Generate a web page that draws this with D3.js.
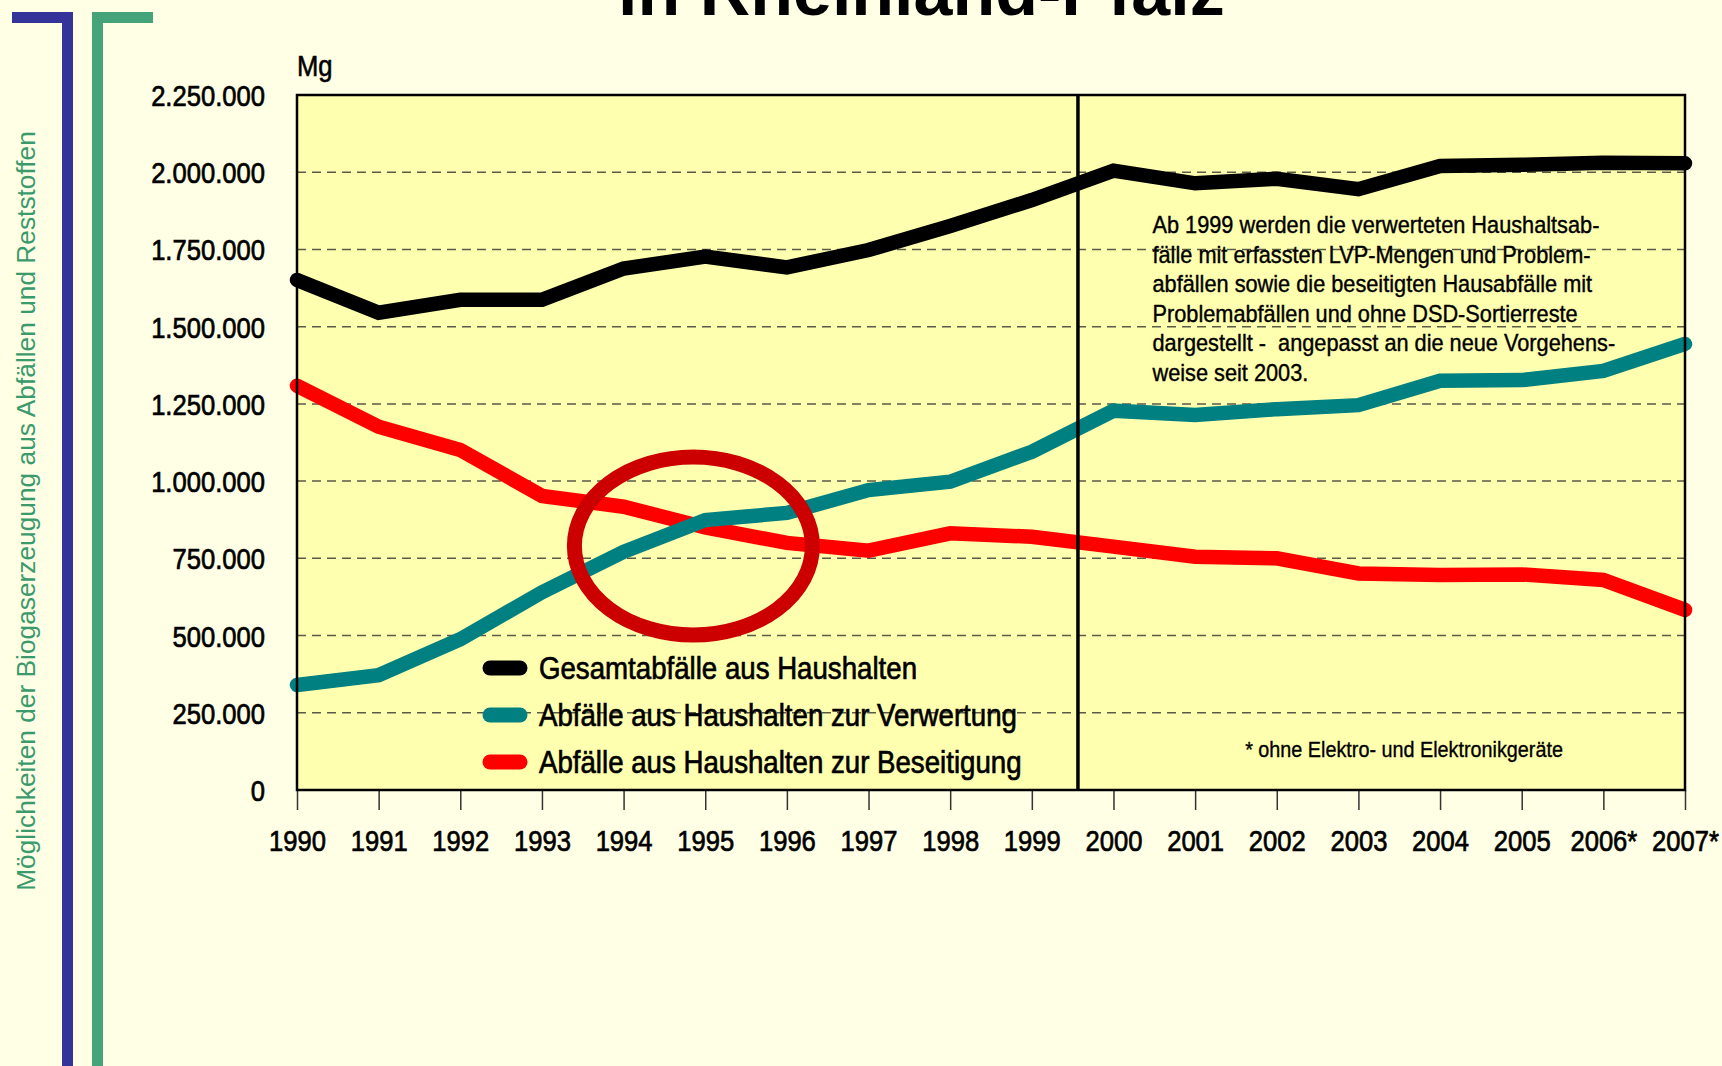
<!DOCTYPE html>
<html>
<head>
<meta charset="utf-8">
<script src="https://cdn.jsdelivr.net/npm/d3@7"></script>
<style>
  html, body { margin: 0; padding: 0; background: #ffffe6; }
  svg { display: block; }
  text { font-family: "Liberation Sans", Arial, sans-serif; white-space: pre; }
</style>
</head>
<body>
<svg id="chart" width="1722" height="1066"></svg>
<script>
// ---------- DATA ----------
const years = [1990,1991,1992,1993,1994,1995,1996,1997,1998,1999,2000,2001,2002,2003,2004,2005,2006,2007];
const yearLabels = ["1990","1991","1992","1993","1994","1995","1996","1997","1998","1999","2000","2001","2002","2003","2004","2005","2006*","2007*"];
const gesamt      = [1651000,1545000,1587000,1587000,1688000,1727000,1692000,1748000,1826000,1910000,2005000,1964000,1979000,1945000,2020000,2024000,2031000,2029000];
const verwertung  = [ 340000, 372000, 488000, 640000, 771000, 874000, 897000, 971000, 998000,1095000,1228000,1214000,1233000,1246000,1325000,1327000,1357000,1444000];
const beseitigung = [1309000,1176000,1101000, 952000, 917000, 850000, 800000, 775000, 831000, 820000, 788000, 755000, 750000, 701000, 696000, 698000, 680000, 583000];
const yTicks = [0,250000,500000,750000,1000000,1250000,1500000,1750000,2000000,2250000];
const seriesNames = ["Gesamtabfälle aus Haushalten","Abfälle aus Haushalten zur Verwertung","Abfälle aus Haushalten zur Beseitigung"];
const titleText = "in Rheinland-Pfalz";
const sideText = "Möglichkeiten der Biogaserzeugung aus Abfällen und Reststoffen";
const unitText = "Mg";
const noteLines = [
  "Ab 1999 werden die verwerteten Haushaltsab-",
  "fälle mit erfassten LVP-Mengen und Problem-",
  "abfällen sowie die beseitigten Hausabfälle mit",
  "Problemabfällen und ohne DSD-Sortierreste",
  "dargestellt -  angepasst an die neue Vorgehens-",
  "weise seit 2003."
];
const footText = "* ohne Elektro- und Elektronikgeräte";

// ---------- LAYOUT ----------
const W = 1722, H = 1066;
const plot = {left: 297, right: 1685, top: 95, bottom: 790};
const colors = ["#000000", "#008080", "#ff0000"];
const cond = 0.868;               // horizontal condense factor

const svg = d3.select("#chart");
svg.append("rect").attr("width", W).attr("height", H).attr("fill", "#ffffe6");

const x = d3.scaleLinear().domain([1990, 2007]).range([plot.left, plot.right]);
const y = d3.scaleLinear().domain([0, 2250000]).range([plot.bottom, plot.top]);

const de = d3.formatLocale({decimal: ",", thousands: ".", grouping: [3], currency: ["", " €"]});
const fmt = de.format(",d");

function addText(parent, px, py, str, size, sx, anchor, sw) {
  return parent.append("text")
    .attr("transform", `translate(${px},${py}) scale(${sx},1)`)
    .attr("text-anchor", anchor || "start")
    .style("font-size", size + "px")
    .attr("fill", "#000")
    .attr("stroke", "#000").attr("stroke-width", sw || 0)
    .text(str);
}

// ---------- left decoration ----------
svg.append("rect").attr("x", 12).attr("y", 12).attr("width", 61).attr("height", 11).attr("fill", "#333399");
svg.append("rect").attr("x", 62).attr("y", 12).attr("width", 11).attr("height", H - 12).attr("fill", "#333399");
svg.append("rect").attr("x", 92).attr("y", 12).attr("width", 61).attr("height", 11).attr("fill", "#45a37a");
svg.append("rect").attr("x", 92).attr("y", 12).attr("width", 11).attr("height", H - 12).attr("fill", "#45a37a");
svg.append("text")
  .attr("transform", "translate(35,511) rotate(-90)")
  .attr("text-anchor", "middle")
  .style("font-size", "26.3px")
  .attr("fill", "#3b9a6c")
  .text(sideText);

// ---------- title ----------
svg.append("text").attr("x", 618).attr("y", 15)
  .style("font-size", "70px").style("font-weight", "bold").attr("fill", "#000")
  .text(titleText);

// ---------- plot background ----------
svg.append("rect").attr("x", plot.left).attr("y", plot.top)
  .attr("width", plot.right - plot.left).attr("height", plot.bottom - plot.top)
  .attr("fill", "#ffffb0");

// gridlines
svg.append("g").selectAll("line")
  .data(yTicks.filter(v => v > 0 && v < 2250000))
  .join("line")
  .attr("x1", plot.left).attr("x2", plot.right)
  .attr("y1", d => y(d)).attr("y2", d => y(d))
  .attr("stroke", "#5a5a48").attr("stroke-width", 1.5).attr("stroke-dasharray", "9,6");

// ---------- axes ----------
const yAxis = svg.append("g").attr("transform", `translate(${plot.left},0)`)
  .call(d3.axisLeft(y).tickValues(yTicks).tickFormat(fmt).tickSize(0).tickPadding(0));
yAxis.select(".domain").remove();
yAxis.selectAll(".tick text")
  .attr("x", null).attr("dy", null)
  .attr("transform", `translate(-32,10.5) scale(${cond},1)`)
  .attr("text-anchor", "end")
  .style("font-size", "29.5px").style("font-family", "'Liberation Sans', Arial, sans-serif")
  .attr("fill", "#000").attr("stroke", "#000").attr("stroke-width", 0.7);

const xAxis = svg.append("g").attr("transform", `translate(0,${plot.bottom})`)
  .call(d3.axisBottom(x).tickValues(years).tickFormat((d, i) => yearLabels[i]).tickSize(20).tickPadding(0));
xAxis.select(".domain").remove();
xAxis.selectAll(".tick line").attr("stroke", "#333").attr("stroke-width", 1.5);
xAxis.selectAll(".tick text")
  .attr("y", null).attr("dy", null)
  .attr("transform", `translate(0,60.5) scale(${cond},1)`)
  .attr("text-anchor", "middle")
  .style("font-size", "29.5px").style("font-family", "'Liberation Sans', Arial, sans-serif")
  .attr("fill", "#000").attr("stroke", "#000").attr("stroke-width", 0.7);

// unit
addText(svg, plot.left, 76, unitText, 29.5, cond, "start", 0.6);

// ---------- annotation texts ----------
noteLines.forEach((s, i) => addText(svg, 1152.5, 233 + i * 29.6, s, 23.5, 0.925, "start", 0.4));
addText(svg, 1404, 757, footText, 22, 0.9, "middle", 0.35);

// ---------- legend ----------
const legend = svg.append("g");
seriesNames.forEach((name, i) => {
  const cy = 668 + i * 47;
  legend.append("line").attr("x1", 490).attr("x2", 520).attr("y1", cy).attr("y2", cy)
    .attr("stroke", colors[i]).attr("stroke-width", 15).attr("stroke-linecap", "round");
  addText(legend, 539, cy + 11, name, 31.5, 0.878, "start", 0.7);
});

// ---------- data lines ----------
const line = d3.line().x((d, i) => x(years[i])).y(d => y(d));
const order = [[gesamt, 0], [beseitigung, 2], [verwertung, 1]];
order.forEach(([vals, ci]) => {
  svg.append("path").datum(vals)
    .attr("d", line)
    .attr("fill", "none")
    .attr("stroke", colors[ci])
    .attr("stroke-width", 14.5)
    .attr("stroke-linecap", "round")
    .attr("stroke-linejoin", "miter");
});

// ---------- plot border & divider ----------
svg.append("rect").attr("x", plot.left).attr("y", plot.top)
  .attr("width", plot.right - plot.left).attr("height", plot.bottom - plot.top)
  .attr("fill", "none").attr("stroke", "#000").attr("stroke-width", 2.5);
const dividerYear = 1999.565;
svg.append("line").attr("x1", x(dividerYear)).attr("x2", x(dividerYear))
  .attr("y1", plot.top).attr("y2", plot.bottom)
  .attr("stroke", "#000").attr("stroke-width", 3.5);

// ---------- highlight ellipse ----------
svg.append("ellipse")
  .attr("cx", x(1994.855)).attr("cy", y(790000))
  .attr("rx", 119).attr("ry", 89)
  .attr("fill", "none").attr("stroke", "#cc0000").attr("stroke-width", 15);
</script>
</body>
</html>
